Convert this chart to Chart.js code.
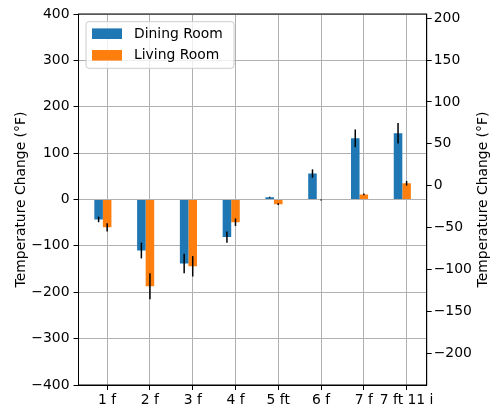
<!DOCTYPE html>
<html><head><meta charset="utf-8">
<script src="https://cdn.jsdelivr.net/npm/chart.js@4/dist/chart.umd.min.js"></script>
<style>html,body{margin:0;padding:0;background:#fff}#wrap{width:490px;height:408px}</style>
</head><body><div id="wrap"><canvas id="c" width="490" height="408"></canvas></div>
<script>
const categories = ["1 f", "2 f", "3 f", "4 f", "5 ft", "6 f", "7 f", "7 ft 11 i"];
const seriesNames = ["Dining Room", "Living Room"];
const diningValues = [-43, -110, -138, -81, 5, 56, 132, 143];
const diningErrors = [6, 17, 21, 12, 1, 9, 19, 22];
const livingValues = [-60, -187, -144, -49, -10, -1, 11, 35];
const livingErrors = [9, 28, 22, 8, 2, 1, 2, 5];
const leftTicks = [-400, -300, -200, -100, 0, 100, 200, 300, 400];
const rightTicks = [-200, -150, -100, -50, 0, 50, 100, 150, 200];
const axisTitle = "Temperature Change (°F)";

const FONT = "DejaVu Sans";
const FS = 13.9;
const BLUE = "#1f77b4", ORANGE = "#ff7f0e", GRID = "#b0b0b0";
const minus = v => String(v).replace("-", "\u2212");

const errors = [diningErrors, livingErrors];

const extras = {
  id: "extras",
  afterDraw(chart) {
    const ctx = chart.ctx;
    const a = chart.chartArea;
    const ys = chart.scales.y;
    ctx.save();
    // error bars
    ctx.strokeStyle = "#000";
    ctx.lineWidth = 1.5;
    [0, 1].forEach(di => {
      const meta = chart.getDatasetMeta(di);
      const ds = chart.data.datasets[di];
      meta.data.forEach((el, i) => {
        const v = ds.data[i].y, e = errors[di][i];
        ctx.beginPath();
        ctx.moveTo(el.x, ys.getPixelForValue(v - e));
        ctx.lineTo(el.x, ys.getPixelForValue(v + e));
        ctx.stroke();
      });
    });
    // frame (top spine)
    ctx.strokeStyle = "#000";
    ctx.lineWidth = 1;
    ctx.strokeRect(a.left, a.top, a.right - a.left, a.bottom - a.top);
    // legend
    const lx = 86, ly = 21.7, lw = 148, lh = 46.6, r = 3;
    ctx.beginPath();
    ctx.moveTo(lx + r, ly);
    ctx.arcTo(lx + lw, ly, lx + lw, ly + lh, r);
    ctx.arcTo(lx + lw, ly + lh, lx, ly + lh, r);
    ctx.arcTo(lx, ly + lh, lx, ly, r);
    ctx.arcTo(lx, ly, lx + lw, ly, r);
    ctx.closePath();
    ctx.fillStyle = "rgba(255,255,255,0.8)";
    ctx.fill();
    ctx.strokeStyle = "#cccccc";
    ctx.stroke();
    const rows = [33.7, 55.3];
    ctx.font = FS + "px '" + FONT + "'";
    ctx.textBaseline = "middle";
    ctx.textAlign = "left";
    [0, 1].forEach(di => {
      const ds = chart.data.datasets[di];
      ctx.fillStyle = ds.backgroundColor;
      ctx.fillRect(92, rows[di] - 5.3, 30, 10.6);
      ctx.fillStyle = "#000";
      ctx.fillText(ds.label, 134, rows[di] + 0.5);
    });
    // axis titles
    const cy = (a.top + a.bottom) / 2;
    ctx.textAlign = "center";
    ctx.save();
    ctx.translate(21, cy);
    ctx.rotate(-Math.PI / 2);
    ctx.fillText(axisTitle, 0, 0);
    ctx.restore();
    ctx.save();
    ctx.translate(483, cy);
    ctx.rotate(-Math.PI / 2);
    ctx.fillText(axisTitle, 0, 0);
    ctx.restore();
    ctx.restore();
  }
};

const tickFont = { family: FONT, size: FS };

new Chart(document.getElementById("c"), {
  type: "bar",
  data: {
    datasets: [
      { label: seriesNames[0], data: diningValues.map((v, i) => ({ x: i, y: v })), backgroundColor: BLUE, xAxisID: "x", yAxisID: "y" },
      { label: seriesNames[1], data: livingValues.map((v, i) => ({ x: i, y: v })), backgroundColor: ORANGE, xAxisID: "x", yAxisID: "y" },
      { label: "_spacer", data: categories.map((c, i) => ({ x: i, y: 0 })), backgroundColor: "rgba(0,0,0,0)", borderWidth: 0, xAxisID: "x", yAxisID: "y" }
    ]
  },
  options: {
    responsive: false,
    animation: false,
    devicePixelRatio: 1,
    layout: { padding: { top: 14, left: 0, right: 0, bottom: 0 } },
    datasets: { bar: { categoryPercentage: 0.6, barPercentage: 1.0, borderWidth: 0 } },
    plugins: { legend: { display: false }, tooltip: { enabled: false } },
    scales: {
      x: {
        type: "linear", position: "bottom", min: -0.67, max: 7.47, offset: false, z: 1,
        afterBuildTicks(s) { s.ticks = categories.map((c, i) => ({ value: i })); },
        afterFit(s) { s.height = 23; },
        ticks: { callback: v => categories[v], autoSkip: false, maxRotation: 0, minRotation: 0, font: tickFont, color: "#000", padding: 2 },
        grid: { offset: false, color: GRID, lineWidth: 1, tickColor: "#000", tickLength: 5 },
        border: { display: true, color: "#000", width: 1 }
      },
      y: {
        type: "linear", position: "left", min: -400, max: 400, z: 1,
        afterBuildTicks(s) { s.ticks = leftTicks.map(v => ({ value: v })); },
        afterFit(s) { s.width = 78.5; },
        ticks: { callback: v => minus(v), font: tickFont, color: "#000", padding: 4 },
        grid: { color: GRID, lineWidth: 1, tickColor: "#000", tickLength: 5 },
        border: { display: true, color: "#000", width: 1 }
      },
      y2: {
        type: "linear", position: "right", min: -238, max: 205, z: 1,
        afterBuildTicks(s) { s.ticks = rightTicks.map(v => ({ value: v })); },
        afterFit(s) { s.width = 63.3; },
        ticks: { callback: v => minus(v), font: tickFont, color: "#000", padding: 2 },
        grid: { drawOnChartArea: false, tickColor: "#000", tickLength: 5 },
        border: { display: true, color: "#000", width: 1 }
      }
    }
  },
  plugins: [extras]
});
</script>
</body></html>
